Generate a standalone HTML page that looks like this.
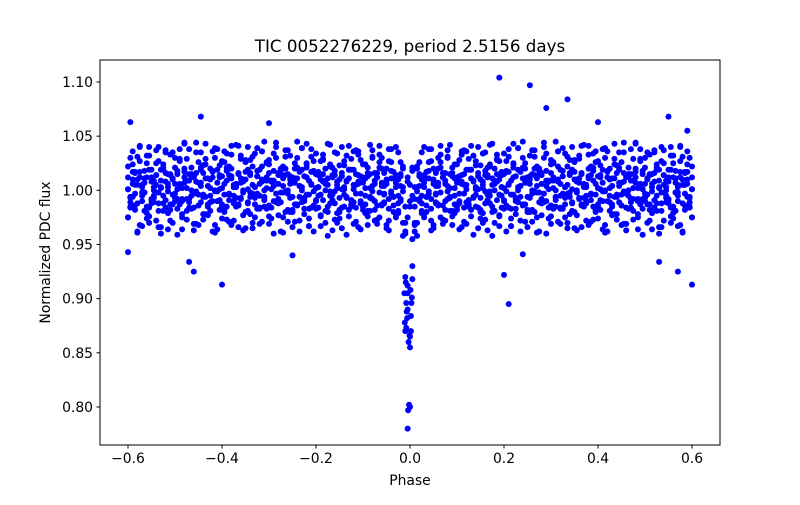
<!DOCTYPE html>
<html><head><meta charset="utf-8"><style>
body{margin:0;background:#fff;}
svg text{font-family:"DejaVu Sans","Liberation Sans",sans-serif;fill:#000;}
</style></head><body>
<svg id="chart" width="800" height="500" viewBox="0 0 800 500" xmlns="http://www.w3.org/2000/svg">
<rect width="800" height="500" fill="#fff"/>
<text x="410" y="52" font-size="16.7" text-anchor="middle">TIC 0052276229, period 2.5156 days</text>
<g id="marks"></g>
<rect x="100" y="60" width="620" height="385" fill="none" stroke="#000" stroke-width="1"/>
<g id="xaxis"></g>
<g id="yaxis"></g>
<text x="410" y="485" font-size="13.9" text-anchor="middle">Phase</text>
<text transform="translate(50,252.5) rotate(-90)" font-size="13.9" text-anchor="middle">Normalized PDC flux</text>
</svg>
<script>
const phases=[-0.6,-0.595,-0.59,-0.585,-0.58,-0.575,-0.57,-0.565,-0.56,-0.555,-0.55,-0.545,-0.54,-0.535,-0.53,-0.525,-0.52,-0.515,-0.51,-0.505,
-0.5,-0.495,-0.49,-0.485,-0.48,-0.475,-0.47,-0.465,-0.46,-0.455,-0.45,-0.445,-0.44,-0.435,-0.43,-0.425,-0.42,-0.415,-0.41,-0.405,
-0.4,-0.395,-0.39,-0.385,-0.38,-0.375,-0.37,-0.365,-0.36,-0.355,-0.35,-0.345,-0.34,-0.335,-0.33,-0.325,-0.32,-0.315,-0.31,-0.305,
-0.3,-0.295,-0.29,-0.285,-0.28,-0.275,-0.27,-0.265,-0.26,-0.255,-0.25,-0.245,-0.24,-0.235,-0.23,-0.225,-0.22,-0.215,-0.21,-0.205,
-0.2,-0.195,-0.19,-0.185,-0.18,-0.175,-0.17,-0.165,-0.16,-0.155,-0.15,-0.145,-0.14,-0.135,-0.13,-0.125,-0.12,-0.115,-0.11,-0.105,
-0.1,-0.095,-0.09,-0.085,-0.08,-0.075,-0.07,-0.065,-0.06,-0.055,-0.05,-0.045,-0.04,-0.035,-0.03,-0.025,-0.02,-0.015,-0.01,-0.005,
0,0.005,0.01,0.015,0.02,0.025,0.03,0.035,0.04,0.045,0.05,0.055,0.06,0.065,0.07,0.075,0.08,0.085,0.09,0.095,
0.1,0.105,0.11,0.115,0.12,0.125,0.13,0.135,0.14,0.145,0.15,0.155,0.16,0.165,0.17,0.175,0.18,0.185,0.19,0.195,
0.2,0.205,0.21,0.215,0.22,0.225,0.23,0.235,0.24,0.245,0.25,0.255,0.26,0.265,0.27,0.275,0.28,0.285,0.29,0.295,
0.3,0.305,0.31,0.315,0.32,0.325,0.33,0.335,0.34,0.345,0.35,0.355,0.36,0.365,0.37,0.375,0.38,0.385,0.39,0.395,
0.4,0.405,0.41,0.415,0.42,0.425,0.43,0.435,0.44,0.445,0.45,0.455,0.46,0.465,0.47,0.475,0.48,0.485,0.49,0.495,
0.5,0.505,0.51,0.515,0.52,0.525,0.53,0.535,0.54,0.545,0.55,0.555,0.56,0.565,0.57,0.575,0.58,0.585,0.59,0.595,0.6];
const fluxA=[1.012,0.985,1.024,0.997,1.031,0.968,1.005,1.018,0.979,1.040,0.991,1.009,0.972,1.027,1.002,0.988,1.035,0.964,1.015,0.996,
1.021,0.983,1.038,0.975,1.007,1.029,0.992,1.013,0.969,1.044,0.986,1.004,1.023,0.978,1.011,0.995,1.036,0.961,1.019,1.001,
0.987,1.026,0.973,1.014,1.041,0.990,1.006,0.966,1.032,0.998,1.017,0.981,1.028,0.970,1.003,1.039,0.984,1.010,0.993,1.025,
0.976,1.008,1.034,0.989,1.016,0.962,1.022,0.999,1.037,0.980,1.012,0.971,1.030,0.994,1.019,0.983,1.043,0.967,1.005,1.027,
0.991,1.014,0.977,1.033,1.000,0.985,1.024,0.963,1.018,1.002,0.974,1.040,0.996,1.009,0.982,1.029,0.969,1.015,1.036,0.988,
1.007,0.979,1.021,0.993,1.031,0.972,1.012,1.026,0.986,1.004,0.965,1.038,0.997,1.017,0.975,1.010,0.990,1.022,0.960,0.905,
0.800,0.955,0.985,1.020,0.992,1.035,0.978,1.011,0.999,1.027,0.968,1.016,0.987,1.041,0.973,1.006,1.030,0.981,1.013,0.995,
1.024,0.964,1.008,1.037,0.989,1.019,0.976,1.032,1.001,0.984,1.023,0.970,1.014,0.996,1.042,0.980,1.009,1.028,0.967,1.003,
1.034,0.986,1.017,0.974,1.025,0.993,1.039,0.962,1.011,1.020,0.982,1.006,0.971,1.031,0.998,1.015,0.977,1.044,0.990,1.008,
0.969,1.026,1.000,1.036,0.983,1.013,0.975,1.022,0.994,1.040,0.965,1.010,1.029,0.987,1.004,0.972,1.033,0.997,1.018,0.980,
1.027,0.991,1.038,0.968,1.012,1.002,0.985,1.024,0.973,1.035,0.996,1.016,0.963,1.021,0.989,1.009,1.043,0.978,1.005,0.992,
1.030,0.970,1.014,0.999,1.037,0.981,1.019,0.966,1.025,1.003,0.988,1.032,0.974,1.011,0.995,1.040,0.961,1.017,1.006,0.984,1.022];
const fluxB=[0.975,1.030,0.994,1.016,0.962,1.041,1.003,0.981,1.025,0.970,1.012,0.989,1.037,0.998,0.966,1.021,1.008,0.979,1.033,0.987,
1.006,0.959,1.027,0.992,1.044,0.973,1.015,1.000,0.984,1.035,0.968,1.019,0.996,1.029,0.977,1.010,0.990,1.039,0.964,1.023,
1.002,0.982,1.034,0.971,1.013,0.995,1.042,0.986,1.007,0.963,1.026,1.001,0.978,1.031,0.993,1.018,0.969,1.036,0.985,1.009,
1.028,0.974,1.004,1.040,0.988,1.020,0.961,1.014,0.997,1.032,0.980,1.011,1.045,0.972,1.003,0.990,1.024,0.967,1.038,0.999,
0.983,1.017,0.976,1.029,1.006,0.958,1.022,0.991,1.035,0.979,1.010,0.965,1.027,0.994,1.041,0.987,1.005,0.971,1.033,1.013,
0.982,1.024,0.968,1.002,1.037,0.990,1.016,0.975,1.030,0.997,1.009,0.963,1.026,0.986,1.040,0.979,1.004,0.958,0.870,0.780,
0.865,0.930,0.962,1.003,1.026,0.981,1.014,0.994,1.038,0.972,1.020,0.988,1.007,1.033,0.969,1.016,0.999,1.042,0.976,1.011,
0.985,1.028,0.966,1.005,1.036,0.991,1.019,0.959,1.023,1.001,0.980,1.034,0.973,1.012,0.995,1.043,0.970,1.008,1.027,0.984,
1.015,0.962,1.031,0.996,1.021,0.978,1.039,1.004,0.987,1.025,0.966,1.013,1.000,1.037,0.975,1.018,0.992,1.030,0.960,1.009,
1.024,0.983,1.045,0.971,1.006,0.997,1.034,0.965,1.016,0.989,1.028,0.977,1.011,1.041,0.993,1.003,0.968,1.022,0.985,1.036,
0.974,1.014,0.999,1.030,0.962,1.020,0.987,1.043,0.978,1.007,1.026,0.969,1.012,0.995,1.038,0.981,1.017,0.964,1.029,1.001,
0.990,1.035,0.972,1.015,0.984,1.024,0.960,1.040,1.005,0.993,1.019,0.976,1.032,0.998,0.967,1.027,1.010,0.982,1.036,0.989,0.975];
const fluxC=[1.001,0.993,1.010,0.986,1.005,1.017,0.990,0.998,1.012,0.984,1.008,0.995,1.014,0.988,1.003,1.019,0.991,1.006,0.982,1.011,
0.997,1.015,0.987,1.002,1.020,0.992,1.009,0.983,1.013,0.999,1.007,0.989,1.016,0.994,1.004,0.981,1.018,1.000,0.990,1.012,
0.985,1.006,1.021,0.996,1.011,0.988,1.003,1.015,0.993,1.008,0.980,1.019,0.998,1.005,0.987,1.013,0.995,1.022,0.991,1.002,
1.016,0.984,1.009,0.997,1.014,0.989,1.004,1.020,0.982,1.010,0.994,1.007,0.986,1.017,1.000,0.992,1.012,0.983,1.006,1.018,
0.990,1.003,0.996,1.015,0.981,1.011,0.999,1.021,0.988,1.005,0.993,1.013,0.985,1.008,1.019,0.991,1.001,0.984,1.014,0.997,
1.009,0.987,1.016,0.994,1.004,0.982,1.012,0.998,1.020,0.989,1.006,0.992,1.011,0.980,1.003,0.995,1.015,0.970,0.920,0.890,
0.855,0.918,0.970,0.999,1.013,0.988,1.007,0.994,1.018,0.983,1.010,0.996,1.004,1.021,0.986,1.009,0.992,1.015,0.981,1.002,
1.012,0.990,1.006,0.997,1.019,0.985,1.011,0.993,1.003,1.016,0.982,1.008,0.999,1.014,0.988,1.005,1.020,0.991,1.010,0.995,
1.002,1.017,0.984,1.009,0.996,1.013,0.989,1.004,1.021,0.987,1.007,0.993,1.015,0.980,1.011,0.998,1.006,0.990,1.018,1.001,
0.986,1.012,0.994,1.008,1.019,0.983,1.003,0.997,1.014,0.988,1.010,1.000,0.992,1.016,0.985,1.005,1.020,0.991,1.009,0.996,
1.013,0.982,1.007,0.999,1.017,0.989,1.004,1.011,0.994,1.021,0.986,1.008,0.997,1.015,0.984,1.002,1.012,0.990,1.006,1.018,
0.993,1.010,0.987,1.003,1.016,0.995,1.009,0.981,1.014,1.000,0.992,1.019,0.985,1.007,0.998,1.012,0.988,1.005,1.017,0.994,1.001];
const fluxD=[0.975,0.989,1.036,0.982,1.010,1.027,0.967,0.998,1.032,0.976,1.019,0.993,1.005,1.040,0.960,1.024,0.984,1.015,0.972,1.035,0.990,
1.001,1.029,0.964,1.017,0.981,1.038,0.995,1.012,0.969,1.026,1.007,0.978,1.043,0.987,1.020,0.962,1.030,0.999,1.014,0.974,
1.036,0.985,1.022,0.968,1.003,0.993,1.041,1.011,0.977,1.028,0.989,1.016,0.965,1.034,0.997,1.006,0.971,1.045,0.983,1.024,
1.009,0.960,1.030,0.992,1.018,0.975,1.037,1.000,1.013,0.966,1.025,0.987,1.004,1.039,0.978,1.021,0.996,1.031,0.962,1.015,
0.984,1.027,1.008,0.970,1.043,0.995,1.012,0.973,1.034,0.980,1.001,1.023,0.959,1.019,0.991,1.036,1.005,0.966,1.028,0.985,
1.011,0.976,1.042,0.999,1.016,0.969,1.033,1.007,0.988,1.020,0.972,1.038,0.994,1.014,0.981,1.026,1.003,0.962,1.012,0.985,
1.021,0.968,0.958,1.004,0.979,1.040,0.986,1.026,0.963,1.009,0.997,1.030,0.975,1.016,0.990,1.037,1.002,0.968,1.024,0.982,
1.013,1.033,0.971,1.005,0.987,1.041,0.994,1.027,0.965,1.010,0.979,1.035,0.991,1.022,0.958,1.006,1.029,0.976,1.017,0.983,
0.999,1.038,0.967,1.024,0.990,1.003,0.972,1.045,1.011,0.980,1.032,0.997,1.014,0.961,1.020,0.988,1.040,1.004,0.974,1.028,
1.009,0.985,1.036,0.969,1.018,0.993,1.031,0.978,1.001,1.026,0.963,1.007,0.986,1.042,0.995,1.013,0.971,1.034,0.982,1.002,
1.023,0.964,1.039,0.990,1.010,0.977,1.029,0.996,1.019,0.968,1.035,0.984,1.000,1.015,0.973,1.044,0.992,1.027,0.959,1.006,
0.987,1.033,0.979,1.008,1.021,0.966,0.998,1.037,0.989,1.012,0.970,1.025,0.981,1.003,1.041,0.962,1.016,0.994,1.030,0.975];
const fluxE=[1.022,0.984,1.006,1.017,0.961,1.040,0.995,1.011,0.974,1.032,0.988,1.003,1.025,0.966,1.019,0.981,1.037,0.999,1.014,0.970,1.030,
0.992,1.005,0.978,1.043,1.009,0.989,1.021,0.963,1.016,0.996,1.035,0.973,1.024,0.985,1.002,1.012,0.968,1.038,0.991,1.027,
0.980,1.018,0.997,1.033,0.972,1.004,0.987,1.029,1.010,0.965,1.040,0.994,1.022,0.975,1.013,0.983,1.036,1.000,1.026,0.969,
1.008,0.990,1.044,0.977,1.015,0.998,1.031,0.971,1.006,0.982,1.020,1.011,0.962,1.039,0.993,1.025,0.974,1.017,0.986,1.034,
1.003,0.967,1.028,1.009,0.980,1.042,0.996,1.014,0.970,1.023,0.984,1.001,1.032,0.976,1.019,0.989,1.037,1.008,0.964,1.024,
0.995,1.013,0.981,1.030,1.006,0.973,1.041,0.987,1.016,0.968,1.027,0.999,1.011,0.978,1.035,0.992,1.020,0.985,0.975,1.005,
1.018,0.992,1.022,0.990,1.010,0.975,1.017,0.997,1.038,0.965,1.004,0.986,1.026,1.012,0.972,1.031,0.993,1.021,0.979,1.007,
0.988,1.036,1.015,0.969,1.029,0.982,1.009,0.996,1.040,0.974,1.002,1.018,0.963,1.024,0.985,1.000,1.033,0.977,1.014,0.991,
1.027,1.005,0.967,1.043,0.983,1.019,0.994,1.030,0.971,1.012,0.980,1.037,0.999,1.022,0.962,1.016,0.989,1.034,1.008,0.976,
1.025,0.993,1.010,0.984,1.039,1.003,0.970,1.028,0.981,1.017,0.998,1.032,0.966,1.006,0.990,1.041,1.014,0.973,1.026,0.987,
1.001,1.019,0.961,1.036,0.995,1.011,0.978,1.023,1.004,0.986,1.044,0.969,1.013,0.992,1.029,1.007,0.975,1.038,0.983,1.021,
0.996,1.015,0.964,1.035,0.988,1.002,1.027,0.972,1.009,0.991,1.040,0.979,1.018,1.005,0.968,1.031,0.997,1.024,0.985,1.012];
const fluxF=[1.001,0.994,1.017,1.005,0.988,1.012,0.998,1.007,0.985,1.019,0.992,1.000,1.014,0.981,1.009,0.995,1.016,1.003,0.987,1.010,0.993,
1.018,1.006,0.990,1.012,1.002,0.984,1.015,0.997,1.008,0.986,1.021,0.994,1.011,1.004,0.989,1.017,0.999,1.007,0.982,1.013,
0.996,1.009,0.991,1.020,1.005,0.985,1.016,0.992,1.000,1.010,0.988,1.014,0.997,1.003,0.983,1.019,1.008,0.994,1.012,0.986,
1.001,1.018,0.990,1.006,0.998,1.011,0.980,1.015,0.993,1.007,0.987,1.021,1.004,0.989,1.013,0.996,1.009,0.984,1.017,1.002,
0.995,1.010,0.991,1.020,1.005,0.988,1.014,0.999,1.008,0.982,1.016,1.003,0.993,1.011,0.985,1.019,0.997,1.006,0.990,1.012,
1.002,0.981,1.015,0.992,1.009,0.986,1.021,1.004,0.996,1.010,0.983,1.018,0.994,1.007,0.988,1.013,0.999,0.970,1.008,0.990,
0.995,1.003,0.970,1.015,0.995,1.003,0.980,1.011,0.992,1.006,0.989,1.020,0.998,1.012,0.982,1.004,0.994,1.016,0.987,1.009,
0.997,1.014,0.984,1.001,0.991,1.019,1.008,0.985,1.013,0.993,1.005,0.988,1.021,0.999,1.011,0.981,1.015,0.996,1.003,0.990,
1.018,1.006,0.983,1.012,0.992,1.000,1.017,0.986,1.007,0.994,1.010,0.982,1.020,1.004,0.989,1.014,0.997,1.009,0.984,1.016,
1.002,0.991,1.022,0.995,1.013,0.987,1.005,0.998,1.019,0.980,1.008,0.993,1.015,1.003,0.988,1.011,0.996,1.021,1.006,0.985,
1.012,0.990,1.000,1.018,0.981,1.004,0.994,1.016,0.989,1.007,0.999,1.013,0.983,1.009,0.992,1.020,1.002,0.987,1.015,0.997,
1.011,0.982,1.006,0.991,1.019,1.003,0.988,1.014,0.995,1.008,0.984,1.012,0.998,0.990,1.017,1.005,0.986,1.010,0.993,1.001];
const extraPhase=[-0.595,-0.6,-0.445,-0.4,-0.47,-0.46,-0.3,-0.25,0.19,0.255,0.29,0.335,0.21,0.2,0.24,0.4,0.55,0.57,0.6,0.53,0.59,-0.004,-0.002,-0.008,-0.012,-0.006,0.002,-0.009,0.003,-0.003,-0.007,0.001,-0.011,0.004,-0.001,-0.005,0.002,-0.008];
const extraFlux=[1.063,0.943,1.068,0.913,0.934,0.925,1.062,0.940,1.104,1.097,1.076,1.084,0.895,0.922,0.941,1.063,1.068,0.925,0.913,0.934,1.055,0.797,0.802,0.873,0.905,0.882,0.870,0.915,0.896,0.860,0.888,0.908,0.878,0.901,0.866,0.912,0.884,0.896];
const xTicks=[-0.6,-0.4,-0.2,0.0,0.2,0.4,0.6];
const xTickLabels=["−0.6","−0.4","−0.2","0.0","0.2","0.4","0.6"];
const yTicks=[0.80,0.85,0.90,0.95,1.00,1.05,1.10];
const yTickLabels=["0.80","0.85","0.90","0.95","1.00","1.05","1.10"];

const NS="http://www.w3.org/2000/svg";
const L=100,R=720,T=60,B=445;
const xMin=-0.6596,xMax=0.6596,yMin=0.7649,yMax=1.1203;
function xs(v){return L+(v-xMin)/(xMax-xMin)*(R-L);}
function ys(v){return B-(v-yMin)/(yMax-yMin)*(B-T);}
const marks=document.getElementById('marks');
function dot(p,f){
  const c=document.createElementNS(NS,'circle');
  c.setAttribute('cx',xs(p).toFixed(2));c.setAttribute('cy',ys(f).toFixed(2));
  c.setAttribute('r','3');c.setAttribute('fill','#0000ff');
  
  
  marks.appendChild(c);
}
[fluxA,fluxB,fluxC,fluxD,fluxE,fluxF].forEach(arr=>{phases.forEach((p,i)=>dot(p,arr[i]));});
extraPhase.forEach((p,i)=>dot(p,extraFlux[i]));

const xa=document.getElementById('xaxis');
xTicks.forEach((v,i)=>{
  const x=xs(v);
  const l=document.createElementNS(NS,'line');
  l.setAttribute('x1',x);l.setAttribute('x2',x);l.setAttribute('y1',B);l.setAttribute('y2',B+3.5);l.setAttribute('stroke','#000');
  
  
  xa.appendChild(l);
  const t=document.createElementNS(NS,'text');
  t.setAttribute('x',x);t.setAttribute('y',B+18);t.setAttribute('font-size','13.9');t.setAttribute('text-anchor','middle');
  t.textContent=xTickLabels[i];
  
  
  xa.appendChild(t);
});
const ya=document.getElementById('yaxis');
yTicks.forEach((v,i)=>{
  const y=ys(v);
  const l=document.createElementNS(NS,'line');
  l.setAttribute('x1',L-3.5);l.setAttribute('x2',L);l.setAttribute('y1',y);l.setAttribute('y2',y);l.setAttribute('stroke','#000');
  
  
  ya.appendChild(l);
  const t=document.createElementNS(NS,'text');
  t.setAttribute('x',L-7);t.setAttribute('y',y+5);t.setAttribute('font-size','13.9');t.setAttribute('text-anchor','end');
  t.textContent=yTickLabels[i];
  
  
  ya.appendChild(t);
});
</script>
</body></html>
